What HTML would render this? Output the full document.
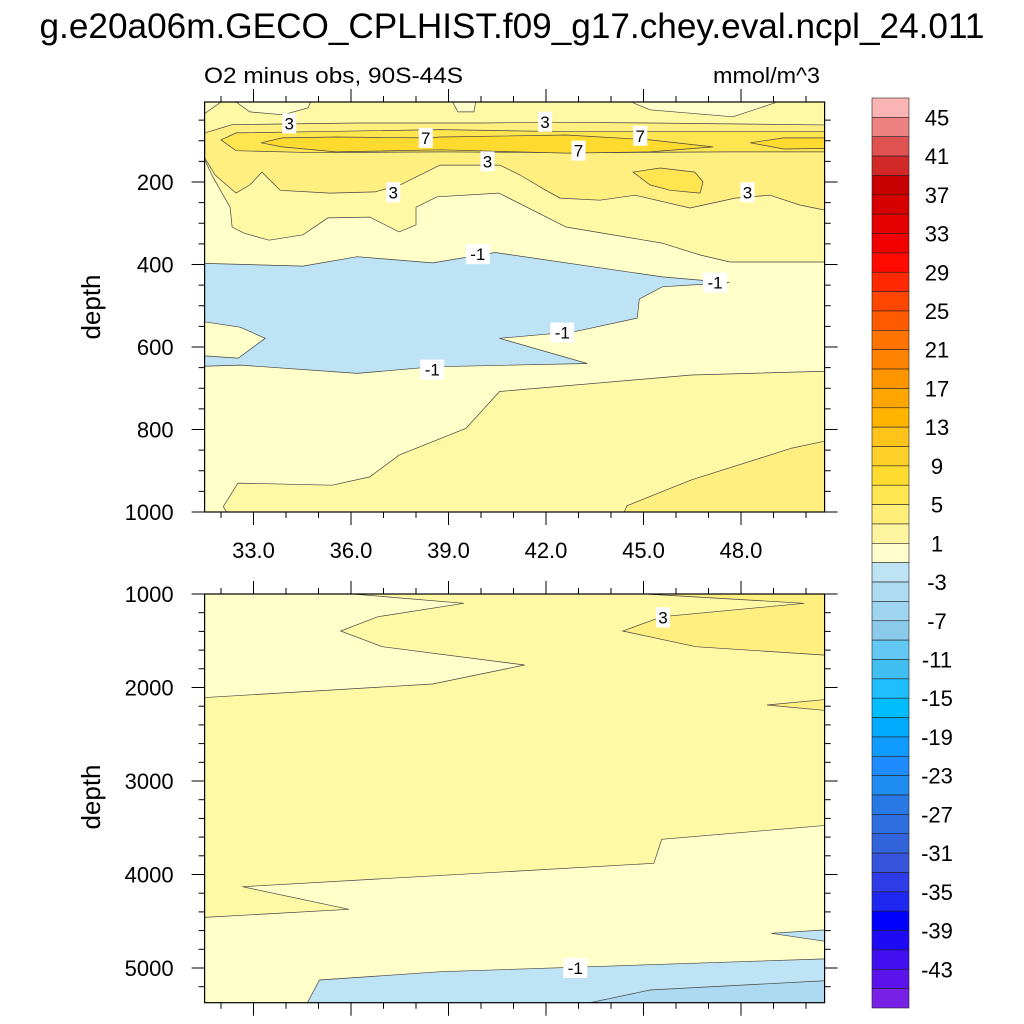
<!DOCTYPE html>
<html><head><meta charset="utf-8"><style>
body{margin:0;background:#fff;}
svg{display:block;font-family:"Liberation Sans",sans-serif;}
</style></head><body>
<svg id="chart" width="1024" height="1024" viewBox="0 0 1024 1024" xmlns="http://www.w3.org/2000/svg">
<defs>
<clipPath id="clipTop"><rect x="204.6" y="102" width="620" height="410"/></clipPath>
<clipPath id="clipBot"><rect x="204.6" y="594" width="620" height="408.7"/></clipPath>
</defs>
<text x="512" y="38" font-size="35" text-anchor="middle" textLength="945" lengthAdjust="spacingAndGlyphs">g.e20a06m.GECO_CPLHIST.f09_g17.chey.eval.ncpl_24.011</text>
<text x="204" y="83" font-size="22" textLength="259" lengthAdjust="spacingAndGlyphs">O2 minus obs, 90S-44S</text>
<text x="820" y="83" font-size="22" text-anchor="end" textLength="107" lengthAdjust="spacingAndGlyphs">mmol/m^3</text>
<g id="topPanel"></g>
<g id="botPanel"></g>
<g id="cbar"></g>
</svg>
<script>
const NS="http://www.w3.org/2000/svg";
const xTicks=[33,36,39,42,45,48];
const topDepthTicks=[200,400,600,800,1000];
const botDepthTicks=[1000,2000,3000,4000,5000];
const cbarLabels=[45,41,37,33,29,25,21,17,13,9,5,1,-3,-7,-11,-15,-19,-23,-27,-31,-35,-39,-43];
const cbarColors=["#FBB4B4","#EE8282","#E05252","#D22828","#C80000","#D70000","#E60000","#F20000","#FF0A00","#FF2800","#FF4600","#FF5A00","#FF7300","#FF8200","#FF9600","#FFA500","#FFB400","#FFC31A","#FFD02A","#FFDB30","#FFE650","#FFEE78","#FFF5A0","#FFFDCC","#BEE3F5","#ADDCF0","#9ED4EE","#8CCAEB","#64C8F5","#41BEF0","#1EBEFF","#00BEFF","#00AAFF","#0F9BFF","#1E8CFF","#1E8CF0","#2878E6","#2D6EE1","#3264DC","#3755DC","#2D3CE6","#1E28F0","#0000FF","#1E0AF5","#410FF0","#5A14EB","#7820E6"];
// contour fill regions [lon, depth]
const topBase="#FFFFCA";
const topYellow1=[[31,0],[51,0],[51,394],[47.66,394],[46.74,377],[45.57,348],[42.62,309],[40.55,227],[38.65,236],[38.0,261],[38.0,304],[37.48,321],[36.58,285],[35.29,287],[34.52,328],[33.48,341],[32.71,324],[32.34,309],[32.28,261],[31.75,188],[31.5,147],[31,140]];
const topPale1=[[31,-20],[32.46,-20],[31,62]];
const topPale2=[[32.46,-20],[32.46,6],[32.89,30],[33.91,37],[34.68,20],[34.89,-20]];
const topPale3=[[44.68,-20],[44.68,8],[45.2,25],[47.75,42],[49.05,8],[49.05,-20]];
const topPale4=[[38.95,-20],[39.29,30],[39.78,30],[39.9,-20]];
const topY3=[[31.5,81],[32.34,61],[36.18,57],[40.06,57],[41.97,55],[45.2,57],[51,62],[51,275],[49.82,256],[48.89,232],[47.82,239],[46.43,263],[44.74,232],[43.66,244],[42.43,239],[41.97,219],[41.2,183],[40.58,159],[38.74,159],[37.51,207],[36.74,224],[35.35,227],[33.82,220],[33.26,176],[32.89,207],[32.46,227],[31.82,183],[31.5,142]];
const topY5=[[32.0,98],[32.46,81],[34.88,78],[38.75,73],[42.62,78],[51,78],[51,127],[47.55,127],[42.62,129],[38.75,127],[34.88,129],[32.46,124]];
const topY5b=[[44.68,176],[45.51,166],[46.58,176],[46.83,200],[46.74,227],[45.82,220],[45.2,207]];
const topY7=[[33.23,105],[33.88,93],[35.54,91],[38.25,93],[38.77,91],[42.62,86],[45.2,98],[47.14,115],[45.2,127],[42.62,130],[38.77,122],[35.54,127],[33.88,115]];
const topY7b=[[48.28,105],[49.32,93],[51,93],[51,118],[49.32,120]];
const topBlue=[[31,396],[34.52,404],[36.19,381],[38.51,396],[40.44,371],[45.58,430],[47.64,444],[45.58,454],[44.87,484],[44.81,530],[42.88,563],[40.57,579],[43.27,640],[38.51,648],[36.19,664],[32.59,644],[31,648],[31,619],[32.53,627],[33.36,579],[32.59,552],[31,533]];
const topLowY1=[[51,658],[46.48,668],[40.57,708],[39.54,797],[37.48,862],[36.58,915],[35.42,935],[32.52,930],[32.07,987],[32.33,1020],[51,1020]];
const topLowY3=[[44.49,985],[46.48,922],[49.57,845],[51,821],[51,1020],[44.3,1020]];
const botBase="#FFF8A5";
const botPale1=[[31,900],[36.06,900],[36.06,1000],[39.47,1099],[36.83,1243],[35.68,1396],[36.96,1564],[41.34,1759],[38.51,1963],[31,2118]];
const botY3=[[45.07,900],[45.07,1000],[49.95,1099],[45.58,1243],[44.36,1396],[46.61,1564],[51,1663],[51,900]];
const botY3b=[[48.8,2187],[51,2116],[51,2259]];
const botPale2=[[31,4468],[35.94,4372],[32.66,4130],[45.32,3880],[45.56,3623],[51,3463],[51,5500],[31,5500]];
const botBlue=[[34.46,5500],[35.03,5128],[38.76,5040],[51,4897],[51,5500]];
const botBlue2=[[41.59,5500],[45.2,5235],[51,5128],[51,5500]];
const botBlue3=[[48.93,4629],[51,4583],[51,4736]];
const topLabels=[["3",34.1,58],["3",41.97,54],["3",37.3,225],["3",40.2,150],["3",48.2,225],["7",38.3,93],["7",44.9,88],["7",43.0,124],["-1",39.9,375],["-1",47.2,444],["-1",42.5,565],["-1",38.5,655]];
const botLabels=[["3",45.6,1250],["-1",42.9,5000]];

const X0=204.6,X1=824.6;
function xs(lon){return 253.5+(lon-33)*32.5;}
function ysTop(d){return 182+(d-200)*0.4125;}
function ysBot(d){return 594+(d-1000)*0.0935;}
function el(tag,attrs,parent){const e=document.createElementNS(NS,tag);for(const k in attrs)e.setAttribute(k,attrs[k]);parent.appendChild(e);return e;}
function poly(pts,ys,fill,g,name){
  const p=el("polygon",{points:pts.map(q=>xs(q[0]).toFixed(1)+","+ys(q[1]).toFixed(1)).join(" "),fill:fill,stroke:"#444",'stroke-width':"0.7"},g);
  
  
}
function label(t,lon,d,ys,g){
  const x=xs(lon),y=ys(d);const w=t.length*10+4;
  const r=el("rect",{x:x-w/2,y:y-10,width:w,height:20,fill:"#fff"},g);
  
  
  const tx=el("text",{x:x,y:y+6,'font-size':"17",'text-anchor':"middle"},g);
  
  
  tx.textContent=t;
}
function frame(g,yTop,yBot,majorY,minorY,ys,xLabels){
  const f=el("rect",{x:X0,y:yTop,width:X1-X0,height:yBot-yTop,fill:"none",stroke:"#000",'stroke-width':"1.2"},g);
  
  
  for(let lon=32;lon<=50;lon++){
    const x=xs(lon);const maj=xTicks.includes(lon);const L=maj?13:6;
    el("line",{x1:x,y1:yBot,x2:x,y2:yBot+L,stroke:"#000",'stroke-width':"1"},g);
    el("line",{x1:x,y1:yTop,x2:x,y2:yTop-L,stroke:"#000",'stroke-width':"1"},g);
  }
  if(xLabels){xTicks.forEach(v=>{const t=el("text",{x:xs(v),y:yBot+46,'font-size':"22",'text-anchor':"middle"},g);
    
    
    t.textContent=v.toFixed(1);});}
  minorY.forEach(d=>{const y=ys(d);if(y<yTop-0.5||y>yBot+0.5)return;const maj=majorY.includes(d);const L=maj?13:6;
    el("line",{x1:X0,y1:y,x2:X0-L,y2:y,stroke:"#000",'stroke-width':"1"},g);
    el("line",{x1:X1,y1:y,x2:X1+L,y2:y,stroke:"#000",'stroke-width':"1"},g);});
  majorY.forEach(d=>{const t=el("text",{x:X0-31,y:ys(d)+8,'font-size':"22",'text-anchor':"end"},g);
    
    
    t.textContent=d;});
}
// top panel
const gt=document.getElementById("topPanel");
const ct=el("g",{'clip-path':"url(#clipTop)"},gt);
const bgT=el("rect",{x:X0,y:102,width:620,height:410,fill:topBase},ct);


poly(topYellow1,ysTop,"#FFF8A5",ct,"region-1-to-3");
[topPale1,topPale2,topPale3,topPale4].forEach(p=>poly(p,ysTop,topBase,ct,"region-pale"));
poly(topY3,ysTop,"#FFEE80",ct,"region-3-to-5");
poly(topY5,ysTop,"#FFE650",ct,"region-5-to-7");
poly(topY5b,ysTop,"#FFE650",ct,"region-5-to-7");
poly(topY7,ysTop,"#FFDB30",ct,"region-7-to-9");
poly(topY7b,ysTop,"#FFDB30",ct,"region-7-to-9");
poly(topBlue,ysTop,"#BDE3F5",ct,"region-below-minus-1");
poly(topLowY1,ysTop,"#FFF8A5",ct,"region-1-to-3");
poly(topLowY3,ysTop,"#FFEE80",ct,"region-3-to-5");
topLabels.forEach(l=>label(l[0],l[1],l[2],ysTop,ct));
const minT=[];for(let d=50;d<=1000;d+=50)minT.push(d);
frame(gt,102,512,topDepthTicks,minT,ysTop,true);
const yt1=el("text",{x:100,y:307,'font-size':"26",'text-anchor':"middle",transform:"rotate(-90 100 307)"},gt);


yt1.textContent="depth";
// bottom panel
const gb=document.getElementById("botPanel");
const cb=el("g",{'clip-path':"url(#clipBot)"},gb);
const bgB=el("rect",{x:X0,y:594,width:620,height:409,fill:botBase},cb);


poly(botPale1,ysBot,"#FFFFCA",cb,"region-pale");
poly(botY3,ysBot,"#FFEE80",cb,"region-3-to-5");
poly(botY3b,ysBot,"#FFEE80",cb,"region-3-to-5");
poly(botPale2,ysBot,"#FFFFCA",cb,"region-pale");
poly(botBlue,ysBot,"#BDE3F5",cb,"region-below-minus-1");
poly(botBlue2,ysBot,"#ADDAF0",cb,"region-below-minus-3");
poly(botBlue3,ysBot,"#BDE3F5",cb,"region-below-minus-1");
botLabels.forEach(l=>label(l[0],l[1],l[2],ysBot,cb));
const minB=[];for(let d=1000;d<=5400;d+=200)minB.push(d);
frame(gb,594,1002.7,botDepthTicks,minB,ysBot,false);
const yt2=el("text",{x:100,y:797,'font-size':"26",'text-anchor':"middle",transform:"rotate(-90 100 797)"},gb);


yt2.textContent="depth";
// colorbar
const gc=document.getElementById("cbar");
const cbTop=98,cbBot=1008,bh=(cbBot-cbTop)/cbarColors.length;
cbarColors.forEach((c,i)=>{
  const r=el("rect",{x:872,y:cbTop+i*bh,width:37,height:bh,fill:c,stroke:"#222",'stroke-width':"0.6"},gc);
  
  
});
cbarLabels.forEach((v,i)=>{
  const t=el("text",{x:937,y:cbTop+(1+2*i)*bh+8,'font-size':"22",'text-anchor':"middle"},gc);
  
  
  t.textContent=v;
});
</script>
</body></html>
